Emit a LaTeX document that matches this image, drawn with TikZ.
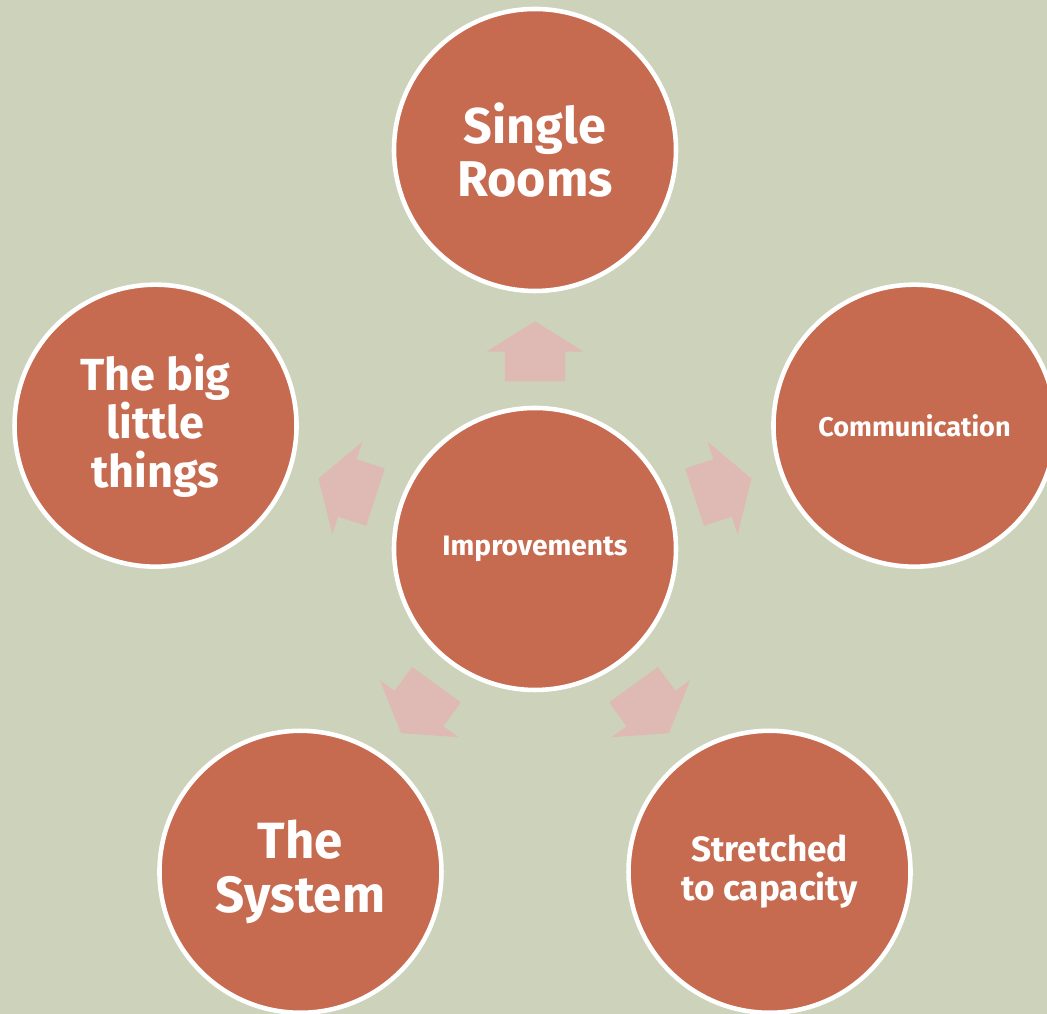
\documentclass[tikz,border=0pt]{standalone}
\usepackage{fontspec}
\setmainfont{Fira Sans}
\usetikzlibrary{calc,shapes.arrows}

\definecolor{sage}{HTML}{CCD3BA}
\definecolor{brick}{HTML}{C66A50}
\definecolor{blush}{HTML}{DFBAB4}

\begin{document}
\begin{tikzpicture}[
    bubble/.style = {circle,
                     draw = white,
                     line width = 1.3pt,
                     fill = brick,
                     text = white,
                     align = center,
                     font = \bfseries,
                     minimum size = 2.82cm},
    pointer/.style = {single arrow,
                      fill = blush,
                      inner xsep = 0pt,
                      inner ysep = 0.295cm,
                      minimum height = 0.6cm,
                      single arrow head extend = 0.185cm,
                      single arrow tip angle = 116,
                      anchor = tail}
    ]

    \fill[sage] (0,0) rectangle (10.47,10.14);
    \clip (0,0) rectangle (10.47,10.14);

    \node[bubble, font=\bfseries\fontsize{8}{10}\selectfont] (ctr) at (5.35,4.65) {Improvements};

    \node[bubble, font=\bfseries\fontsize{14.3}{15.2}\selectfont] (rooms)
        at ($(ctr)+(90:3.99)$) {Single\\Rooms};
    \node[bubble, font=\bfseries\fontsize{7.7}{10}\selectfont] (comm)
        at ($(ctr)+(18:3.99)$) {Communication};
    \node[bubble, font=\bfseries\fontsize{10}{11}\selectfont] (cap)
        at ($(ctr)+(-54:3.99)$) {Stretched\\to capacity};
    \node[bubble, font=\bfseries\fontsize{14.5}{15.2}\selectfont] (sys)
        at ($(ctr)+(-126:3.99)$) {The\\System};
    \node[bubble, font=\bfseries\fontsize{12.8}{13.7}\selectfont] (things)
        at ($(ctr)+(162:3.99)$) {The big\\little\\things};

    % block arrows pointing out from the middle to each bubble
    \foreach \n/\a in {rooms/90, comm/18, cap/-54, sys/-126, things/162}
        \node[pointer, rotate=\a] (to\n) at ($(ctr)!1.67cm!(\n)$) {};

\end{tikzpicture}
\end{document}
